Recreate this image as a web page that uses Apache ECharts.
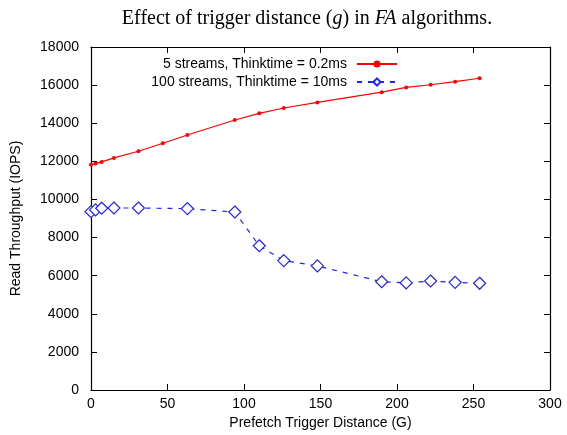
<!DOCTYPE html>
<html>
<head>
<meta charset="utf-8">
<script src="https://cdn.jsdelivr.net/npm/echarts@6/dist/echarts.min.js"></script>
<style>html,body{margin:0;padding:0;background:#fff}#c{width:567px;height:435px}</style>
</head>
<body>
<div id="c"></div>
<script>
const redX = [0, 3, 7, 15, 31, 47, 63, 94, 110, 126, 148, 190, 206, 222, 238, 254];
const redY = [11820, 11880, 11970, 12180, 12530, 12950, 13380, 14170, 14520, 14800, 15090, 15630, 15880, 16020, 16180, 16360];
const blueX = [0, 3, 7, 15, 31, 63, 94, 110, 126, 148, 190, 206, 222, 238, 254];
const blueY = [9360, 9450, 9540, 9550, 9550, 9520, 9340, 7570, 6790, 6510, 5680, 5620, 5720, 5650, 5600];
const seriesNames = ['5 streams, Thinktime = 0.2ms', '100 streams, Thinktime = 10ms'];
const xTicks = {min: 0, max: 300, interval: 50};
const yTicks = {min: 0, max: 18000, interval: 2000};

const font = 'Liberation Sans, Arial, Helvetica, sans-serif';
const chart = echarts.init(document.getElementById('c'), null, {renderer: 'canvas'});
const tickIn = {show: true, inside: true, length: 6, lineStyle: {color: '#000', width: 1}};
const axLine = {show: true, onZero: false, lineStyle: {color: '#000', width: 1.2}};
chart.setOption({
  animation: false,
  title: {
    text: 'Effect of trigger distance ({i|g}) in {i|FA} algorithms.',
    left: 302, top: 4, textAlign: 'center',
    textStyle: {
      fontFamily: 'Liberation Serif, Times New Roman, serif', fontSize: 20, fontWeight: 'normal', color: '#000',
      rich: {i: {fontFamily: 'Liberation Serif, Times New Roman, serif', fontSize: 20, fontStyle: 'italic', color: '#000'}}
    }
  },
  grid: {left: 91, right: 17, top: 47, bottom: 45},
  legend: {
    orient: 'vertical', right: 164, top: 52, align: 'right',
    itemWidth: 40, itemHeight: 9, itemGap: 4,
    textStyle: {fontFamily: font, fontSize: 14, color: '#000', padding: [0, 5, 0, 0]},
    data: seriesNames
  },
  xAxis: [{
    type: 'value', min: xTicks.min, max: xTicks.max, interval: xTicks.interval,
    name: 'Prefetch Trigger Distance (G)', nameLocation: 'middle', nameGap: 26,
    nameTextStyle: {fontFamily: font, fontSize: 14, color: '#000'},
    axisLine: axLine, axisTick: tickIn, splitLine: {show: false},
    axisLabel: {fontFamily: font, fontSize: 14, color: '#000', margin: 7}
  }, {
    type: 'value', position: 'top', min: xTicks.min, max: xTicks.max, interval: xTicks.interval,
    axisLine: axLine, axisTick: tickIn, axisLabel: {show: false}, splitLine: {show: false}
  }],
  yAxis: [{
    type: 'value', min: yTicks.min, max: yTicks.max, interval: yTicks.interval,
    name: 'Read Throughput (IOPS)', nameLocation: 'middle', nameGap: 68,
    nameTextStyle: {fontFamily: font, fontSize: 14, color: '#000'},
    axisLine: axLine, axisTick: tickIn, splitLine: {show: false},
    axisLabel: {fontFamily: font, fontSize: 14, color: '#000', margin: 12, formatter: v => String(v)}
  }, {
    type: 'value', position: 'right', min: yTicks.min, max: yTicks.max, interval: yTicks.interval,
    axisLine: axLine, axisTick: tickIn, axisLabel: {show: false}, splitLine: {show: false}
  }],
  series: [{
    name: seriesNames[0], type: 'line',
    data: redX.map((x, i) => [x, redY[i]]),
    lineStyle: {color: '#ff0000', width: 1.2},
    itemStyle: {color: '#ff0000'},
    symbol: 'circle', symbolSize: 4, showAllSymbol: true
  }, {
    name: seriesNames[1], type: 'line',
    data: blueX.map((x, i) => [x, blueY[i]]),
    lineStyle: {color: '#2222ff', width: 1.2, type: [5, 6]},
    itemStyle: {color: '#fff', borderColor: '#2222ff', borderWidth: 1.2},
    symbol: 'diamond', symbolSize: [12, 12], showAllSymbol: true
  }]
});
</script>
</body>
</html>
